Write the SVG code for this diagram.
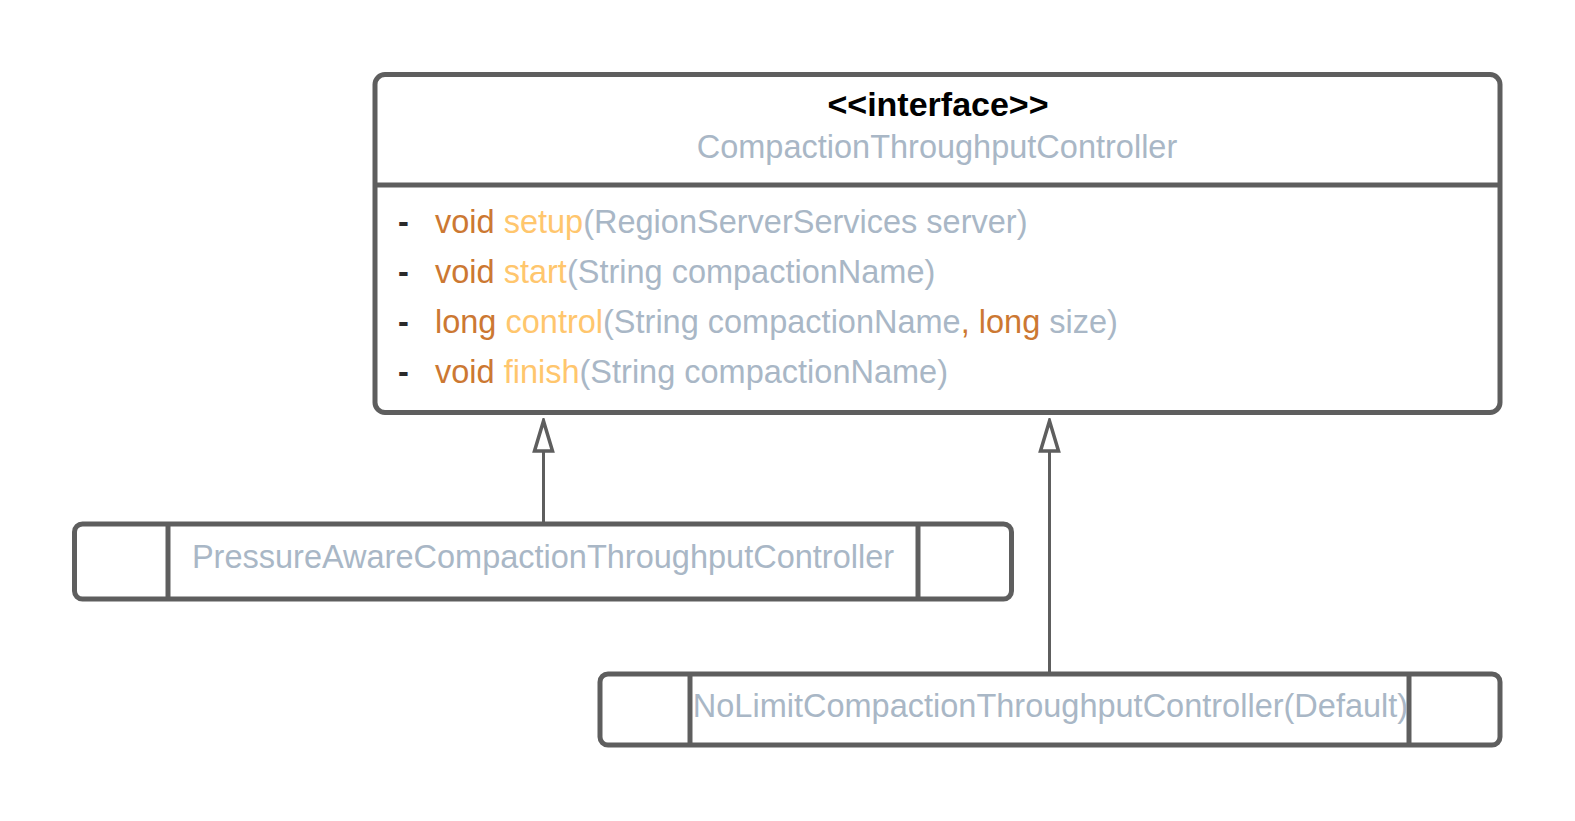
<svg xmlns="http://www.w3.org/2000/svg" width="1575" height="821" viewBox="0 0 1575 821">
<style>
.box{fill:#fff;stroke:#5e5e5e;stroke-width:5}
.ln{stroke:#5e5e5e;stroke-width:5;fill:none}
.t{font-family:"Liberation Sans",Arial,sans-serif;font-size:32.5px;fill:#a9b7c6}
.kw{fill:#cc7832}
.fn{fill:#ffc66d}
.dash{fill:#2b2b2b;font-weight:bold}
.conn{stroke:#5e5e5e;stroke-width:3;fill:none}
</style>
<defs>
<marker id="tri" viewBox="0 0 36 24" refX="33" refY="12" markerWidth="36" markerHeight="24" markerUnits="userSpaceOnUse" orient="auto">
<path d="M33 12 L3 3 L3 21 Z" fill="#fff" stroke="#5e5e5e" stroke-width="3.5" stroke-linejoin="miter"/>
</marker>
</defs>
<g id="connectors">
<line class="conn" x1="543.5" y1="522" x2="543.5" y2="421" marker-end="url(#tri)"/>
<line class="conn" x1="1049.5" y1="672" x2="1049.5" y2="421" marker-end="url(#tri)"/>
</g>
<g id="interface">
<rect class="box" x="375" y="74.5" width="1125" height="338" rx="10"/>
<line class="ln" x1="375" y1="185" x2="1500" y2="185"/>
<text class="t" x="938" y="116" text-anchor="middle" style="font-weight:bold;fill:#000;font-size:34px">&lt;&lt;interface&gt;&gt;</text>
<text class="t" x="937" y="158" text-anchor="middle">CompactionThroughputController</text>
<text class="t" y="233"><tspan class="dash" x="398">-</tspan><tspan class="kw" x="435">void </tspan><tspan class="fn">setup</tspan><tspan>(RegionServerServices server)</tspan></text>
<text class="t" y="283"><tspan class="dash" x="398">-</tspan><tspan class="kw" x="435">void </tspan><tspan class="fn">start</tspan><tspan>(String compactionName)</tspan></text>
<text class="t" y="333"><tspan class="dash" x="398">-</tspan><tspan class="kw" x="435">long </tspan><tspan class="fn">control</tspan><tspan>(String compactionName</tspan><tspan class="kw">, long </tspan><tspan>size)</tspan></text>
<text class="t" y="383"><tspan class="dash" x="398">-</tspan><tspan class="kw" x="435">void </tspan><tspan class="fn">finish</tspan><tspan>(String compactionName)</tspan></text>
</g>
<g id="pressure">
<rect class="box" x="74.5" y="524" width="937" height="75" rx="8"/>
<line class="ln" x1="168" y1="524" x2="168" y2="599"/>
<line class="ln" x1="918" y1="524" x2="918" y2="599"/>
<text class="t" x="543" y="568" text-anchor="middle">PressureAwareCompactionThroughputController</text>
</g>
<g id="nolimit">
<rect class="box" x="600" y="674" width="900" height="71" rx="8"/>
<line class="ln" x1="690" y1="674" x2="690" y2="745"/>
<line class="ln" x1="1409" y1="674" x2="1409" y2="745"/>
<text class="t" x="1050.5" y="717" text-anchor="middle">NoLimitCompactionThroughputController(Default)</text>
</g>
</svg>
